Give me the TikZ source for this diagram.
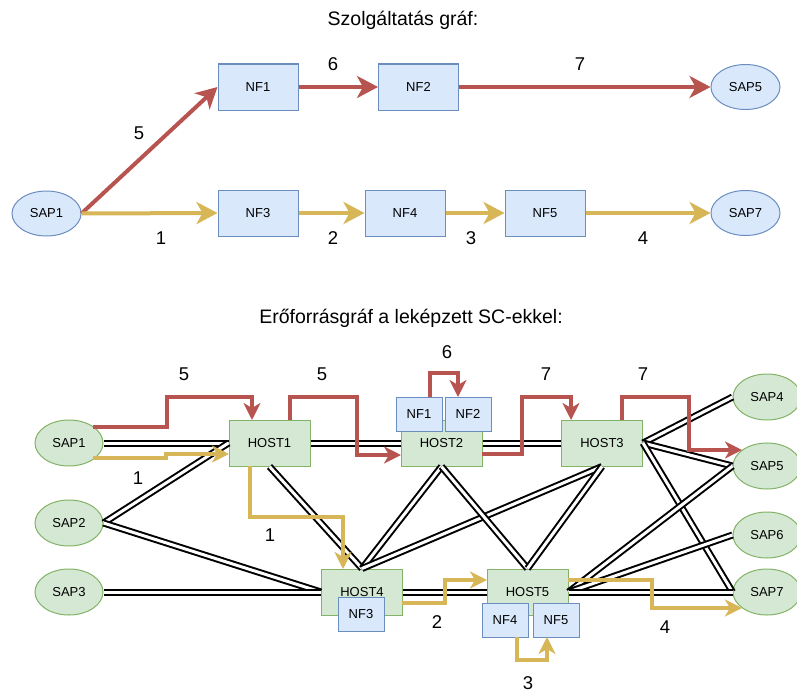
\documentclass[tikz,border=0pt]{standalone}
\usepackage{fontspec}
\setmainfont{Liberation Sans}
\usetikzlibrary{arrows.meta,shapes.geometric}
\definecolor{redc}{HTML}{B85450}
\definecolor{yelc}{HTML}{D6B656}
\definecolor{bluef}{HTML}{DAE8FC}
\definecolor{blued}{HTML}{6C8EBF}
\definecolor{greenf}{HTML}{D5E8D4}
\definecolor{greend}{HTML}{82B366}
\begin{document}
\begin{tikzpicture}[x=1pt,y=-1pt,
  nodefont/.style={font=\fontsize{13}{15}\selectfont},
  nfbox/.style={draw=blued, fill=bluef, line width=1pt, minimum width=80pt, minimum height=46pt, inner sep=0pt, nodefont},
  nfsmall/.style={nfbox, minimum width=46pt, minimum height=34pt},
  hostbox/.style={draw=greend, fill=greenf, line width=1pt, minimum width=81pt, minimum height=46pt, inner sep=0pt, nodefont},
  sapblue/.style={ellipse, draw=blued, fill=bluef, line width=1pt, minimum width=69pt, minimum height=45pt, inner sep=0pt, nodefont},
  sapgreen/.style={ellipse, draw=greend, fill=greenf, line width=1pt, minimum width=68pt, minimum height=46pt, inner sep=0pt, nodefont},
  titlefont/.style={font=\fontsize{19.5}{22}\selectfont},
  numlabel/.style={font=\fontsize{18.5}{21}\selectfont},
  toparrow/.style={line width=4pt, -{Stealth[length=21pt,width=22pt,inset=6pt]}},
  botarrow/.style={line width=4pt, -{Stealth[length=17pt,width=17pt,inset=5pt]}},
  redtop/.style={toparrow, draw=redc, redc},
  yeltop/.style={toparrow, draw=yelc, yelc},
  redbot/.style={botarrow, draw=redc, redc},
  yelbot/.style={botarrow, draw=yelc, yelc},
  link/.style={draw=black, line width=2pt, double=white, double distance=3pt}
]
\useasboundingbox (0,0) rectangle (797,693);

% ---------- Service graph ----------
\node[titlefont] (t1) at (403,20) {Szolgáltatás gráf:};

\node[sapblue] (sSAP1) at (46.5,213.5) {SAP1};
\node[nfbox] (sNF1) at (258,87) {NF1};
\node[nfbox] (sNF2) at (418.5,87) {NF2};
\node[sapblue] (sSAP5) at (745.5,87) {SAP5};
\node[nfbox] (sNF3) at (258,213) {NF3};
\node[nfbox] (sNF4) at (405,213) {NF4};
\node[nfbox] (sNF5) at (545,213) {NF5};
\node[sapblue] (sSAP7) at (745.5,213) {SAP7};

\draw[redtop] (sSAP1.east) -- (sNF1.west);
\draw[redtop] (sNF1) -- (sNF2);
\draw[redtop] (sNF2) -- (sSAP5);
\draw[yeltop] (sSAP1.east) -- (sNF3.west);
\draw[yeltop] (sNF3) -- (sNF4);
\draw[yeltop] (sNF4) -- (sNF5);
\draw[yeltop] (sNF5) -- (sSAP7);

\node[numlabel] (l5) at (139,133) {5};
\node[numlabel] (l6) at (333,64) {6};
\node[numlabel] (l7) at (580,64) {7};
\node[numlabel] (l1) at (161,238) {1};
\node[numlabel] (l2) at (333,238) {2};
\node[numlabel] (l3) at (471,238) {3};
\node[numlabel] (l4) at (643,238) {4};

% ---------- Resource graph ----------
\node[titlefont] (t2) at (411,318) {Erőforrásgráf a leképzett SC-ekkel:};

\node[sapgreen] (SAP1) at (69,443) {SAP1};
\node[sapgreen] (SAP2) at (69,523) {SAP2};
\node[sapgreen] (SAP3) at (69,592) {SAP3};
\node[sapgreen] (SAP4) at (767,397) {SAP4};
\node[sapgreen] (SAP5) at (767,466) {SAP5};
\node[sapgreen] (SAP6) at (767,535) {SAP6};
\node[sapgreen] (SAP7) at (767,592) {SAP7};

\node[hostbox] (HOST1) at (269.5,443) {HOST1};
\node[hostbox] (HOST2) at (441.5,443) {HOST2};
\node[hostbox] (HOST3) at (602,443) {HOST3};
\node[hostbox] (HOST4) at (362,592) {HOST4};
\node[hostbox] (HOST5) at (527.5,592) {HOST5};

% physical links
\draw[link] (SAP1.east) -- (HOST1.west);
\draw[link] (SAP2.east) -- (HOST1.west);
\draw[link] (SAP2.east) -- (HOST4.west);
\draw[link] (SAP3.east) -- (HOST4.west);
\draw[link] (HOST1.east) -- (HOST2.west);
\draw[link] (HOST2.east) -- (HOST3.west);
\draw[link] (HOST1.south) -- (HOST4.north);
\draw[link] (HOST2.south) -- (HOST4.north);
\draw[link] (HOST3.south) -- (HOST4.north);
\draw[link] (HOST2.south) -- (HOST5.north);
\draw[link] (HOST3.south) -- (HOST5.north);
\draw[link] (HOST4.east) -- (HOST5.west);
\draw[link] (HOST3.east) -- (SAP4.west);
\draw[link] (HOST3.east) -- (SAP5.west);
\draw[link] (HOST3.east) -- (SAP7.west);
\draw[link] (HOST5.east) -- (SAP5.west);
\draw[link] (HOST5.east) -- (SAP6.west);
\draw[link] (HOST5.east) -- (SAP7.west);

% NF boxes placed on hosts
\node[nfsmall] (NF1) at (419,414) {NF1};
\node[nfsmall] (NF2) at (468,414) {NF2};
\node[nfsmall] (NF3) at (361,614.5) {NF3};
\node[nfsmall] (NF4) at (505,620) {NF4};
\node[nfsmall] (NF5) at (556,620) {NF5};

% mapped service chain paths
\coordinate (r1a) at (93,427);
\draw[redbot] (r1a) -- (167,427) -- (167,397) -- (252,397) -- (252,420);
\coordinate (y1a) at (93,458);
\draw[yelbot] (y1a) -- (166,458) -- (166,454) -- (229,454);
\draw[redbot] (290,420) -- (290,397) -- (357,397) -- (357,455) -- (401,455);
\draw[redbot] (430,397) -- (430,373) -- (458,373) -- (458,397);
\draw[redbot] (482,454) -- (522,454) -- (522,397) -- (571,397) -- (571,420);
\draw[redbot] (622,420) -- (622,397) -- (689,397) -- (689,450) -- (742,450);
\draw[yelbot] (250,466) -- (250,517) -- (343,517) -- (343,569);
\draw[yelbot] (402,603) -- (445,603) -- (445,580) -- (487,580);
\draw[yelbot] (517,637) -- (517,660) -- (547,660) -- (547,637);
\draw[yelbot] (568,580) -- (652,580) -- (652,608) -- (742,608);

\node[numlabel] (b5a) at (184,374) {5};
\node[numlabel] (b5b) at (322,374) {5};
\node[numlabel] (b6) at (447,352) {6};
\node[numlabel] (b7a) at (546,374) {7};
\node[numlabel] (b7b) at (643,374) {7};
\node[numlabel] (b1a) at (138,478) {1};
\node[numlabel] (b1b) at (270,535) {1};
\node[numlabel] (b2) at (437,622) {2};
\node[numlabel] (b3) at (528,683) {3};
\node[numlabel] (b4) at (665,627) {4};
\end{tikzpicture}
\end{document}
